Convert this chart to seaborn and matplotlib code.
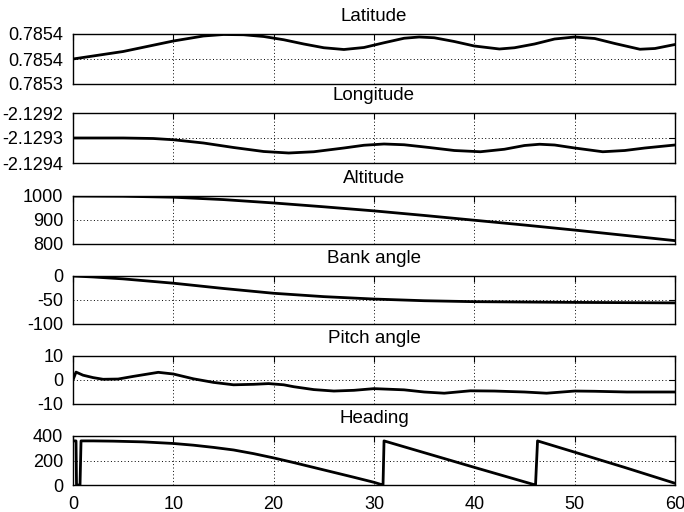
import numpy as np
import pandas as pd
import matplotlib
matplotlib.use("Agg")
import matplotlib.pyplot as plt
import seaborn as sns

# ---------------- data ----------------
titles = ["Latitude", "Longitude", "Altitude", "Bank angle", "Pitch angle", "Heading"]
x_ticks = [0, 10, 20, 30, 40, 50, 60]

lat_t = [0, 5, 10, 13, 15, 17, 19, 21, 23, 25, 27, 29, 31, 33, 34.5, 36, 38, 40,
         42.5, 44, 46, 48, 50, 52, 54, 56.5, 58, 60]
lat_v = [0.785400, 0.785415, 0.785436, 0.785446, 0.785449, 0.7854485, 0.785445,
         0.7854385, 0.785430, 0.7854225, 0.785419, 0.785423, 0.7854325, 0.7854415,
         0.785444, 0.7854425, 0.785435, 0.785426, 0.785420, 0.7854225, 0.785430,
         0.785440, 0.785444, 0.785441, 0.785431, 0.7854195, 0.785421, 0.785429]
lat_ticks = [0.78535, 0.78540, 0.78545]
lat_ticklabels = ["0.7853", "0.7854", "0.7854"]

lon_t = [0, 5, 8, 10, 13, 16, 19, 21.5, 24, 27, 29, 31, 33, 35.5, 38, 40.6, 43, 45,
         46.5, 48, 50, 52.8, 55, 57, 60]
lon_v = [-2.129300, -2.129300, -2.129302, -2.129307, -2.129320, -2.129338,
         -2.129354, -2.129360, -2.129355, -2.129340, -2.129329, -2.129324,
         -2.129327, -2.129338, -2.129350, -2.129355, -2.129345, -2.129330,
         -2.129325, -2.129328, -2.129340, -2.129355, -2.129350, -2.129340,
         -2.129328]
lon_ticks = [-2.1294, -2.1293, -2.1292]
lon_ticklabels = ["-2.1294", "-2.1293", "-2.1292"]

alt_t = [0, 5, 10, 15, 20, 25, 30, 35, 40, 45, 50, 55, 60]
alt_v = [1000, 999, 995, 985, 971, 955, 938, 919, 899, 879, 858, 836, 814]
alt_ticks = [800, 900, 1000]

bank_t = [0, 2, 5, 10, 15, 20, 25, 30, 35, 40, 50, 60]
bank_v = [0, -2, -6, -15, -26, -36, -43, -48, -51.5, -53.5, -55, -56]
bank_ticks = [-100, -50, 0]

pitch_t = [0, 0.3, 1, 2, 3, 4.5, 6, 8.5, 10, 12, 14, 16, 18, 19.5, 21, 22, 24, 26,
           28, 30, 33, 35, 37, 39.6, 42, 45, 47.2, 50, 52, 55.2, 58, 60]
pitch_v = [0, 3.3, 2, 1, 0.3, 0.4, 1.5, 3.2, 2.5, 0.5, -1, -2, -1.8, -1.5, -2,
           -2.8, -4, -4.6, -4.3, -3.6, -4.1, -5, -5.5, -4.5, -4.6, -5, -5.5,
           -4.6, -4.7, -5, -5, -5]
pitch_ticks = [-10, 0, 10]

head_t = [0, 0.3, 0.35, 0.7, 0.8, 2, 4, 7, 10, 12, 14, 16, 18, 20, 22, 24, 26, 28,
          30, 30.8, 30.9, 31.0, 35, 40, 46.0, 46.1, 46.3, 50, 55, 60]
head_v = [360, 360, 0, 0, 360, 360, 358, 352, 339, 325, 307, 286, 256, 221, 183,
          143, 103, 63, 22, 2, 2, 360, 264, 144, 2, 2, 360, 268, 143, 14]
head_ticks = [0, 200, 400]

# ---------------- style ----------------
sns.set_theme(style="white")
plt.rcParams["font.family"] = ["Liberation Sans", "DejaVu Sans"]
plt.rcParams["axes.unicode_minus"] = False

fig = plt.figure(figsize=(6.84, 5.12), dpi=100)
W, H = 684.0, 512.0
left, right = 73, 675
tops = [34, 113, 196, 276, 356, 436]
bottoms = [84, 163, 244, 324, 404, 485]

series = [
    (lat_t, lat_v, lat_ticks, lat_ticklabels, (0.78535, 0.78545)),
    (lon_t, lon_v, lon_ticks, lon_ticklabels, (-2.1294, -2.1292)),
    (alt_t, alt_v, alt_ticks, None, (800, 1000)),
    (bank_t, bank_v, bank_ticks, None, (-100, 0)),
    (pitch_t, pitch_v, pitch_ticks, None, (-10, 10)),
    (head_t, head_v, head_ticks, None, (0, 400)),
]

for i, (t, v, yt, ytl, ylim) in enumerate(series):
    ax = fig.add_axes([left / W, 1 - bottoms[i] / H, (right - left) / W,
                       (bottoms[i] - tops[i]) / H])
    df = pd.DataFrame({"t": t, "v": v})
    sns.lineplot(data=df, x="t", y="v", ax=ax, color="black", linewidth=2.0,
                 estimator=None, sort=False)
    ax.set_xlim(0, 60)
    ax.set_ylim(*ylim)
    ax.set_xticks(x_ticks)
    ax.set_yticks(yt)
    if ytl is not None:
        ax.set_yticklabels(ytl)
    ax.set_xlabel("")
    ax.set_ylabel("")
    ax.set_title(titles[i], fontsize=13.5, pad=9.5, color="black")
    ax.grid(True, color="black", linestyle=(0, (1, 2.5)), linewidth=0.7)
    for s in ax.spines.values():
        s.set_color("black")
        s.set_linewidth(1.0)
    ax.tick_params(axis="both", direction="in", length=4, width=0.8,
                   top=True, right=True, labelsize=13, colors="black")
    ax.tick_params(axis="y", pad=7)
    ax.tick_params(axis="x", pad=8)
    if i < len(series) - 1:
        ax.tick_params(axis="x", labelbottom=False)

fig.savefig("out.png", dpi=100, facecolor="white")
